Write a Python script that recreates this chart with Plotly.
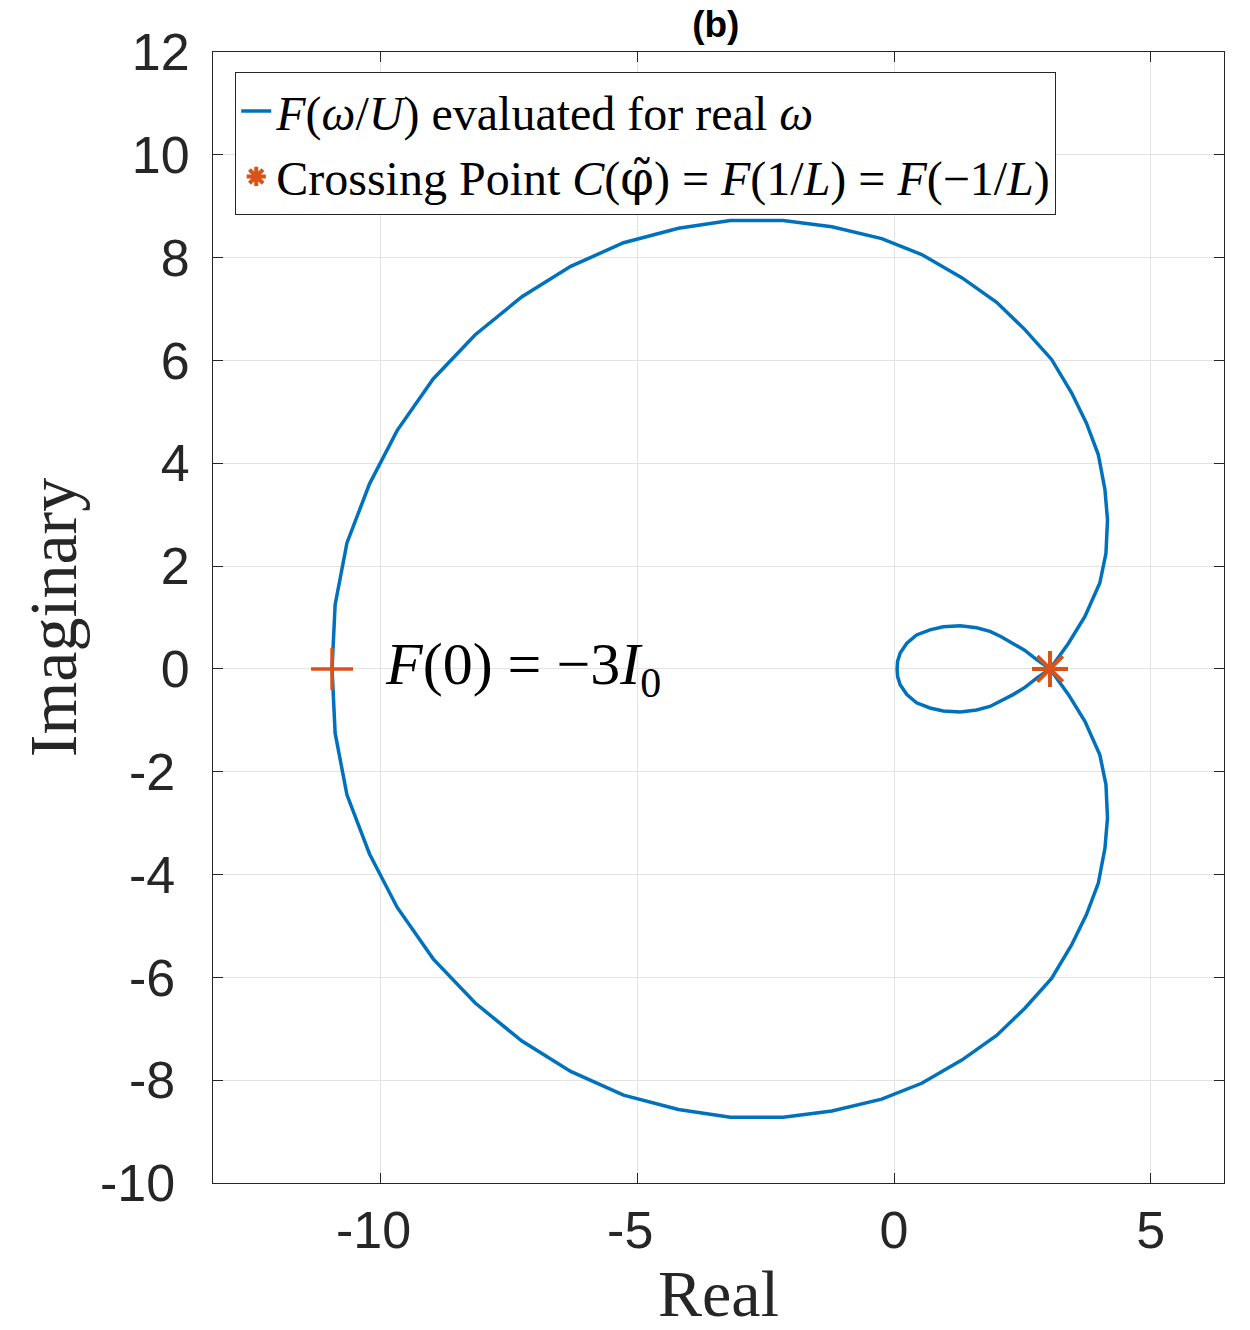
import plotly.graph_objects as go

# Curve F(w/U) for real w, traced as one path:
# upper outer branch -> lower inner loop -> upper inner loop -> lower outer branch
curve_re = [-10.95, -10.89, -10.66, -10.22, -9.68, -8.98, -8.16, -7.25, -6.30, -5.27,
            -4.20, -3.19, -2.16, -1.21, -0.24, 0.54, 1.32, 2.00, 2.55, 3.07,
            3.46, 3.75, 3.98, 4.11, 4.16, 4.13, 4.01, 3.72, 3.40, 3.04,
            2.78, 2.55, 2.32, 2.08, 1.87, 1.61, 1.29, 0.96, 0.70, 0.44, 0.25, 0.12, 0.07, 0.06,
            0.07, 0.12, 0.25, 0.44, 0.70, 0.96, 1.29, 1.61, 1.87, 2.08, 2.32, 2.55, 2.78, 3.04,
            3.40, 3.72, 4.01, 4.13, 4.16, 4.11, 3.98, 3.75, 3.46, 3.07,
            2.55, 2.00, 1.32, 0.54, -0.24, -1.21, -2.16, -3.19, -4.20, -5.27,
            -6.30, -7.25, -8.16, -8.98, -9.68, -10.22, -10.66, -10.89, -10.95]
curve_im = [0.00, 1.25, 2.45, 3.60, 4.64, 5.64, 6.50, 7.24, 7.83, 8.29,
            8.57, 8.72, 8.72, 8.60, 8.37, 8.06, 7.61, 7.13, 6.60, 6.02,
            5.37, 4.78, 4.17, 3.49, 2.90, 2.25, 1.67, 1.02, 0.50, 0.00,
            -0.18, -0.36, -0.50, -0.63, -0.73, -0.80, -0.84, -0.82, -0.76, -0.66, -0.50, -0.31, -0.15, 0.00,
            0.15, 0.31, 0.50, 0.66, 0.76, 0.82, 0.84, 0.80, 0.73, 0.63, 0.50, 0.36, 0.18, 0.00,
            -0.50, -1.02, -1.67, -2.25, -2.90, -3.49, -4.17, -4.78, -5.37, -6.02,
            -6.60, -7.13, -7.61, -8.06, -8.37, -8.60, -8.72, -8.72, -8.57, -8.29,
            -7.83, -7.24, -6.50, -5.64, -4.64, -3.60, -2.45, -1.25, 0.00]

crossing_re = [3.04]
crossing_im = [0.0]
f0_re = [-10.95]
f0_im = [0.0]

x_ticks = [-10, -5, 0, 5]
y_ticks = [-10, -8, -6, -4, -2, 0, 2, 4, 6, 8, 10, 12]


def tick_label(v):
    # negative labels carry a trailing non-breaking space, as in the original
    return f"{v}\u00a0" if v < 0 else str(v)


BLUE = "#0072BD"
ORANGE = "#D95319"
AX = "#262626"
SERIF = "Liberation Serif, Times New Roman, serif"
SANS = "Liberation Sans, Arial, Helvetica, sans-serif"

fig = go.Figure()
fig.add_trace(go.Scatter(
    x=curve_re, y=curve_im, mode="lines",
    line=dict(color=BLUE, width=3.5),
    name="<i>F</i>(<i>ω</i>/<i>U</i>) evaluated for real <i>ω</i>",
))
fig.add_trace(go.Scatter(
    x=crossing_re, y=crossing_im, mode="markers",
    marker=dict(symbol="asterisk-open", size=30, color=ORANGE,
                line=dict(color=ORANGE, width=4)),
    name=("Crossing Point <i>C</i>(<span style=\"font-family:DejaVu Serif\">φ̃</span>)"
          " = <i>F</i>(1/<i>L</i>) = <i>F</i>(−1/<i>L</i>)"),
))
fig.add_trace(go.Scatter(
    x=f0_re, y=f0_im, mode="markers", showlegend=False,
    marker=dict(symbol="cross-thin-open", size=30, color=ORANGE,
                line=dict(color=ORANGE, width=3.5)),
))

fig.add_annotation(
    x=-9.96, y=0, xref="x", yref="y", xanchor="left", yanchor="middle",
    text="<i>F</i>(0) = −3<i>I</i><sub>0</sub>", showarrow=False,
    font=dict(family=SERIF, size=60, color="black"),
)

axis_common = dict(
    showline=True, linecolor=AX, linewidth=1, mirror="ticks",
    ticks="inside", ticklen=10, tickwidth=1, tickcolor=AX,
    showgrid=True, gridcolor="#e3e3e3", gridwidth=1,
    zeroline=False, automargin=False,
    tickfont=dict(family=SANS, size=52, color=AX),
)

fig.update_layout(
    width=1250, height=1330,
    margin=dict(l=213, r=26, t=52, b=147),
    paper_bgcolor="white", plot_bgcolor="white",
    title=dict(text="<b>(b)</b>", x=0.5726, xanchor="center", y=0.982, yanchor="middle",
               font=dict(family=SANS, size=37, color="black")),
    xaxis=dict(range=[-13.27, 6.43], tickvals=x_ticks,
               ticktext=[tick_label(v) for v in x_ticks], ticklabelstandoff=2,
               title=dict(text="Real", font=dict(family=SERIF, size=66, color=AX), standoff=16),
               **axis_common),
    yaxis=dict(range=[-10, 12], tickvals=y_ticks,
               ticktext=[tick_label(v) for v in y_ticks], ticklabelstandoff=12,
               title=dict(text="Imaginary", font=dict(family=SERIF, size=68, color=AX), standoff=1),
               **axis_common),
    legend=dict(x=0.022, y=0.982, xanchor="left", yanchor="top",
                bgcolor="white", bordercolor=AX, borderwidth=1,
                font=dict(family=SERIF, size=48, color="black"),
                itemwidth=30, tracegroupgap=0),
    showlegend=True,
)

fig.write_html("out.html")
